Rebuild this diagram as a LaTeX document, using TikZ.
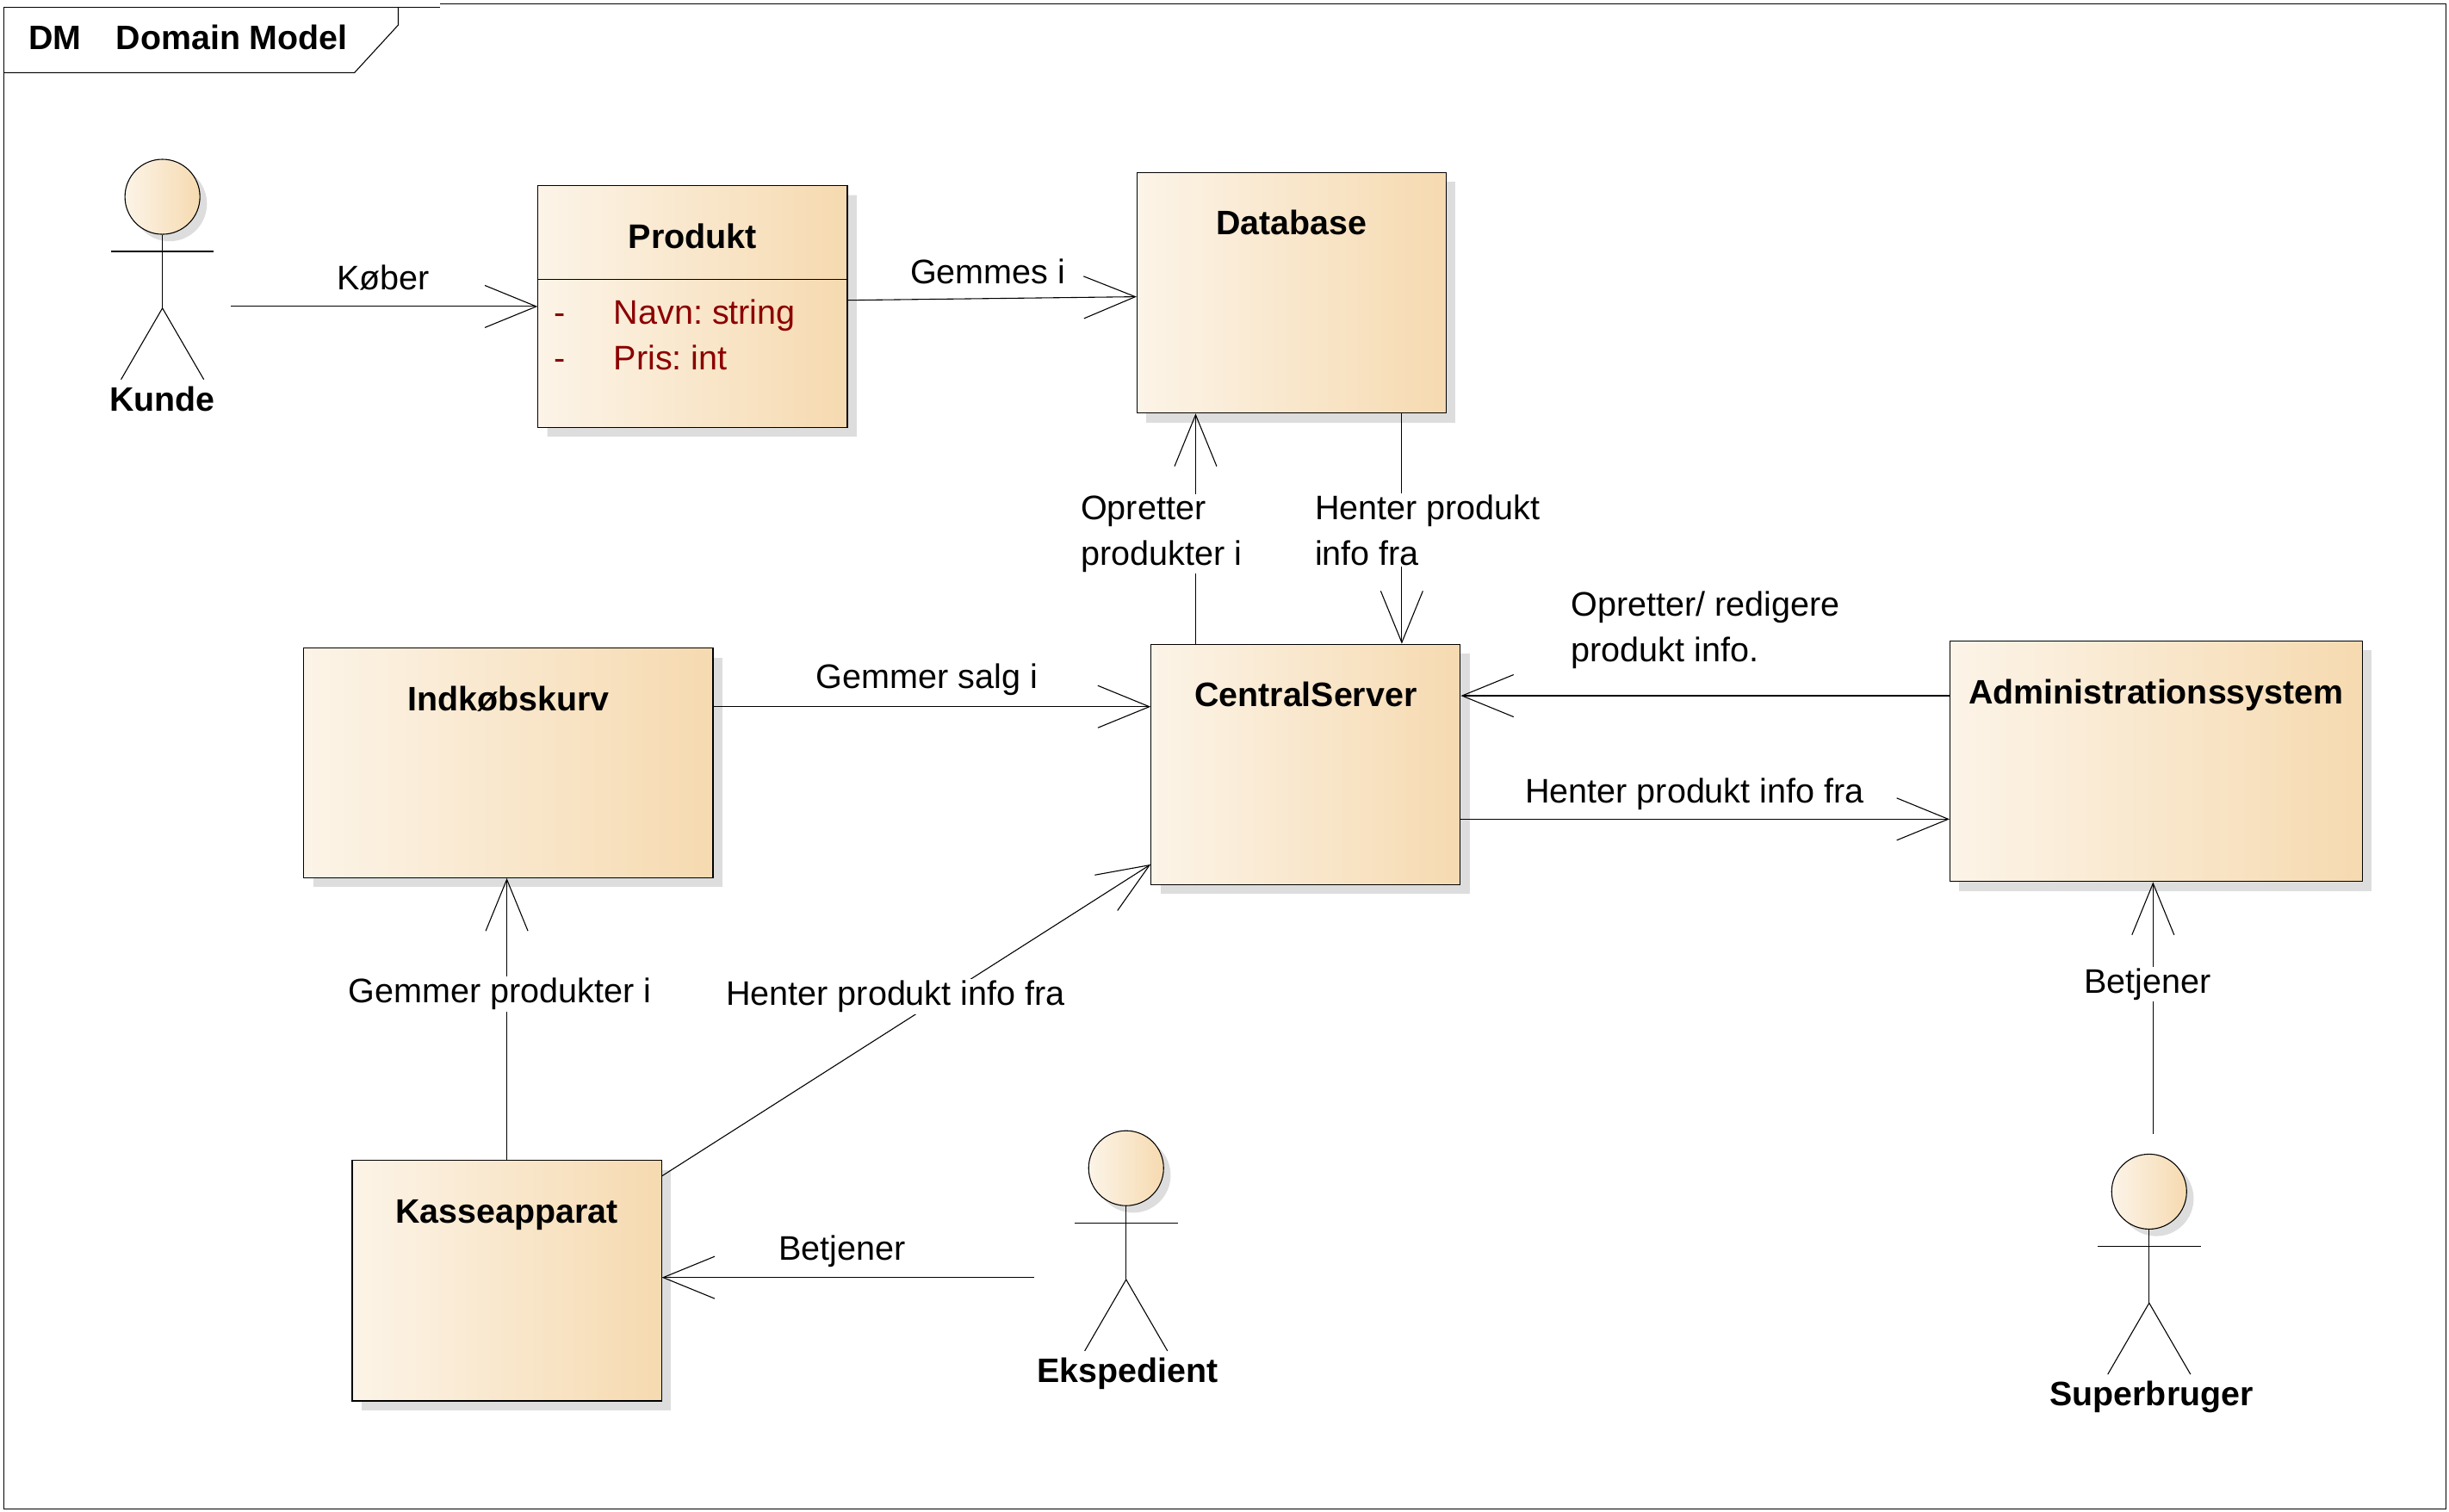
\documentclass[tikz,border=0pt]{standalone}
\usepackage{xcolor}
\usepackage{fontspec}
\setmainfont{Liberation Sans}
\usetikzlibrary{calc,shapes.multipart,shadows,arrows.meta}

\definecolor{boxleft}{HTML}{FCF4E8}
\definecolor{boxright}{HTML}{F6DAB0}
\definecolor{boxshadow}{HTML}{DDDDDD}
\definecolor{attrred}{HTML}{8B0000}

\begin{document}
\begin{tikzpicture}[x=1pt, y=-1pt, line width=0.6pt,
        every node/.style={font=\fontsize{21.8}{29}\selectfont},
        >={Straight Barb[length=33pt, width=27pt]},
        casted/.style={draw, left color=boxleft, right color=boxright,
            drop shadow={shadow xshift=6pt, shadow yshift=-6pt,
                fill=boxshadow, opacity=1}},
        classbox/.style={casted, rectangle, inner sep=0pt, text height=40pt,
            font=\fontsize{21.7}{29}\selectfont\bfseries},
        actorhead/.style={circle, draw, minimum size=48pt, inner sep=0pt,
            left color=boxleft, right color=boxright,
            drop shadow={shadow xshift=4.5pt, shadow yshift=-4.5pt,
                fill=boxshadow, opacity=1}},
        actorname/.style={anchor=base, inner sep=0pt,
            font=\fontsize{21.7}{29}\selectfont\bfseries},
        rel/.style={anchor=base, inner sep=0pt},
        relcut/.style={inner sep=1pt, fill=white, align=left},
        tabtext/.style={anchor=base west, inner sep=0pt,
            font=\fontsize{21.7}{29}\selectfont\bfseries}]

    \useasboundingbox (0,0) rectangle (1568,968.1);

    % frame and tab
    \draw (282,2.4) -- (1566,2.4) -- (1566,966) -- (2.4,966) -- (2.4,4.6) -- (282,4.6);
    \draw (2.4,46.5) -- (227,46.5) -- (255,16) -- (255,4.6);
    \node[tabtext] (tabkind) at (18,31.5) {DM};
    \node[tabtext] (tabname) at (74,31.5) {Domain Model};

    % boxes
    \node[casted, rectangle split, rectangle split parts=2, inner sep=0pt,
        rectangle split part align={center,left}] (Produkt) at (443.5,196.25) {
            \nodepart{one} \raisebox{19.5pt}[59.5pt][0pt]{\makebox[198pt]{\bfseries Produkt}}
            \nodepart{two} \raisebox{81.5pt}[94pt][0pt]{\hspace*{10.5pt}\parbox[t]{187.5pt}{\raggedright\frenchspacing\color{attrred}%
                \makebox[38pt][l]{-}Navn: string\\
                \makebox[38pt][l]{-}Pris: int}}
        };
    \node[classbox, minimum width=198pt, text depth=114pt] (Database) at (827,187.5) {Database};
    \node[classbox, minimum width=198pt, text depth=114pt] (CentralServer) at (836,489.5) {CentralServer};
    \node[classbox, minimum width=262pt, text depth=107pt] (Indkobskurv) at (325.5,488.5) {Indkøbskurv};
    \node[classbox, minimum width=264pt, text depth=114pt] (Admin) at (1380.5,487.5) {Administrationssystem};
    \node[classbox, minimum width=198pt, text depth=114pt] (Kasseapparat) at (324.5,820) {Kasseapparat};

    % actors
    \foreach \actor/\hx/\hy/\txt/\tx in {kunde/104/126/Kunde/104,
            ekspedient/721/748/Ekspedient/722,
            superbruger/1376/763/Superbruger/1377.5} {
        \node[actorhead] (\actor) at (\hx,\hy) {};
        \draw (\actor.south) -- ++(0,47) coordinate (\actor-hip);
        \draw ($(\actor)+(-33,35)$) -- ($(\actor)+(33,35)$);
        \draw ($(\actor)+(-26.5,117)$) -- (\actor-hip) -- ($(\actor)+(26.5,117)$);
        \node[actorname] (\actor-name) at ($(\hx,\hy)+(\tx-\hx,137)$) {\txt};
    }
    \coordinate (kunde-out) at (148,196.25);
    \coordinate (ekspedient-out) at (662,818);
    \coordinate (superbruger-out) at (1378.5,726);

    % relations
    \draw[->] (kunde-out) -- (Produkt.west);
    \draw[->] ([yshift=4pt]Produkt.east) -- ([yshift=-2.5pt]Database.west);
    \draw[->] ([xshift=-70.5pt]CentralServer.north) -- ([xshift=-61.5pt]Database.south)
        node[relcut, midway, xshift=-22pt, yshift=-3.5pt] (opretter) {Opretter\\produkter i};
    \draw[->] ([xshift=70.5pt]Database.south) -- ([xshift=61.5pt]CentralServer.north)
        node[relcut, midway, xshift=16.5pt, yshift=-1pt] (henterdb) {Henter produkt\\info fra};
    \draw[->] ([yshift=42pt]Admin.west) -- ([yshift=44pt]CentralServer.east);
    \draw[->] ([yshift=-35pt]CentralServer.east) -- ([yshift=-37pt]Admin.west);
    \draw[->] ([yshift=36pt]Indkobskurv.east) -- ([yshift=37pt]CentralServer.west);
    \draw[->] (Kasseapparat.north) -- ([xshift=-1pt]Indkobskurv.south)
        node[relcut, pos=0.6, xshift=-4.5pt, yshift=-2pt] (gemmer) {Gemmer produkter i};
    \draw[->] ([yshift=67pt]Kasseapparat.east) -- ([yshift=-64pt]CentralServer.west)
        node[relcut, pos=0.47, xshift=2.5pt, yshift=21pt] (henterkasse) {Henter produkt info fra};
    \draw[->] (ekspedient-out) -- ([yshift=2pt]Kasseapparat.east);
    \draw[->] (superbruger-out) -- ([xshift=-2pt]Admin.south)
        node[relcut, pos=0.62, xshift=-3.5pt, yshift=-4pt] (betjeneradm) {Betjener};

    % labels without a cut
    \node[rel] (kober) at (245.5,185.5) {Køber};
    \node[rel] (gemmes) at (632.5,181.5) {Gemmes i};
    \node[rel] (gemmersalg) at (593.5,441) {Gemmer salg i};
    \node[rel] (henteradm) at (1085,514) {Henter produkt info fra};
    \node[rel] (betjenerkasse) at (539,807) {Betjener};
    \node[align=left, inner sep=0pt] (opretteradm) at (1092,403.5) {Opretter/ redigere\\produkt info.};
\end{tikzpicture}
\end{document}
